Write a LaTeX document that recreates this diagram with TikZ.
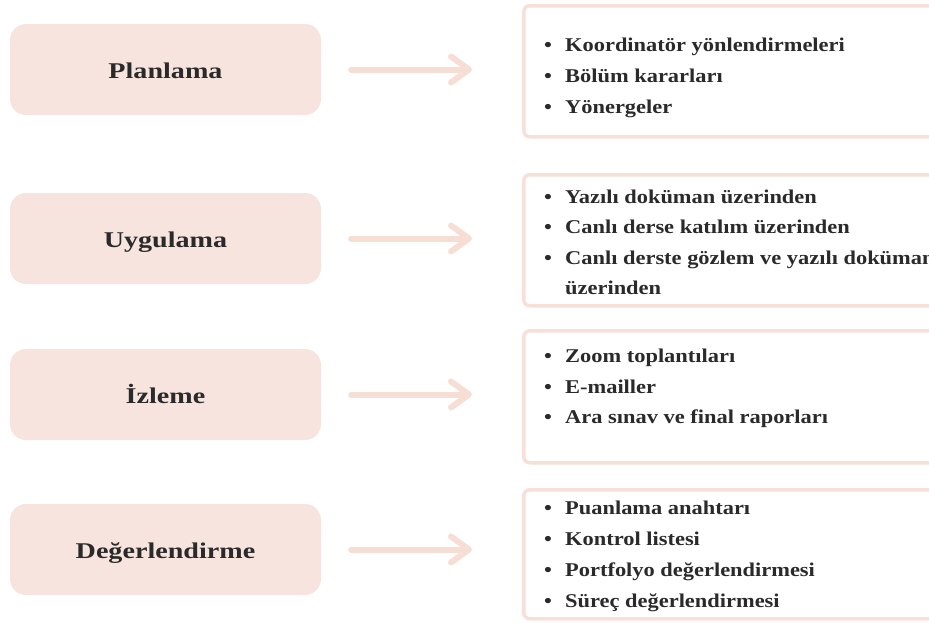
\documentclass[tikz,border=0pt]{standalone}
\usepackage{fontspec}
\setmainfont{Liberation Serif}[FakeStretch=1.15]
\newfontfamily\stagefont{Liberation Serif}[FakeStretch=1.25]
\usetikzlibrary{arrows.meta}
\definecolor{blush}{HTML}{F7E4DE}
\definecolor{blushline}{HTML}{F6E0D8}
\definecolor{arrowpink}{HTML}{F7DED4}
\definecolor{ink}{HTML}{2A2A2A}
\tikzset{
  stage/.style={fill=blush, rounded corners=16pt, minimum width=311pt,
    minimum height=91pt, inner sep=0pt, text=ink,
    font=\stagefont\bfseries\fontsize{22.5}{24}\selectfont,
    text height=19pt, text depth=2pt},
  detail/.style={draw=blushline, line width=3.5pt, fill=white,
    rounded corners=6pt, minimum width=424pt, inner sep=0pt, anchor=north west},
  item/.style={anchor=base west, inner sep=0pt, text=ink,
    font=\bfseries\fontsize{19.5}{21}\selectfont},
  flow/.style={draw=arrowpink, line width=6pt, line cap=round,
    -{Straight Barb[length=18pt,width=26pt,round]},
    shorten <=30pt, shorten >=50pt}
}
\newcommand{\bul}[1]{\makebox[21pt][l]{•}#1}
\begin{document}
\begin{tikzpicture}[x=1pt,y=-1pt]
\useasboundingbox (0,0) rectangle (929,622);
\clip (0,0) rectangle (929,622);

% stages on the left
\node[stage] (plan) at (165.5,69.5) {Planlama};
\node[stage] (uyg)  at (165.5,238.5) {Uygulama};
\node[stage] (izl)  at (165.5,394.5) {İzleme};
\node[stage] (deg)  at (165.5,549.5) {Değerlendirme};

% detail boxes on the right
\node[detail, minimum height=131pt] (planD) at (522,4) {};
\node[detail, minimum height=131pt] (uygD)  at (522,173) {};
\node[detail, minimum height=132pt] (izlD)  at (522,329) {};
\node[detail, minimum height=129pt] (degD)  at (522,488) {};

% connectors
\draw[flow] (plan.east) -- (plan.east -| planD.west);
\draw[flow] (uyg.east)  -- (uyg.east -| uygD.west);
\draw[flow] (izl.east)  -- (izl.east -| izlD.west);
\draw[flow] (deg.east)  -- (deg.east -| degD.west);

% Planlama
\node[item] (p1) at (544,51)  {\bul{Koordinatör yönlendirmeleri}};
\node[item] (p2) at (544,82)  {\bul{Bölüm kararları}};
\node[item] (p3) at (544,113) {\bul{Yönergeler}};

% Uygulama
\node[item] (u1) at (544,203) {\bul{Yazılı doküman üzerinden}};
\node[item] (u2) at (544,233) {\bul{Canlı derse katılım üzerinden}};
\node[item] (u3) at (544,264) {\bul{Canlı derste gözlem ve yazılı doküman}};
\node[item] (u4) at (565,294) {üzerinden};

% İzleme
\node[item] (i1) at (544,362) {\bul{Zoom toplantıları}};
\node[item] (i2) at (544,393) {\bul{E-mailler}};
\node[item] (i3) at (544,423) {\bul{Ara sınav ve final raporları}};

% Değerlendirme
\node[item] (d1) at (544,514) {\bul{Puanlama anahtarı}};
\node[item] (d2) at (544,545) {\bul{Kontrol listesi}};
\node[item] (d3) at (544,576) {\bul{Portfolyo değerlendirmesi}};
\node[item] (d4) at (544,607) {\bul{Süreç değerlendirmesi}};
\end{tikzpicture}
\end{document}
